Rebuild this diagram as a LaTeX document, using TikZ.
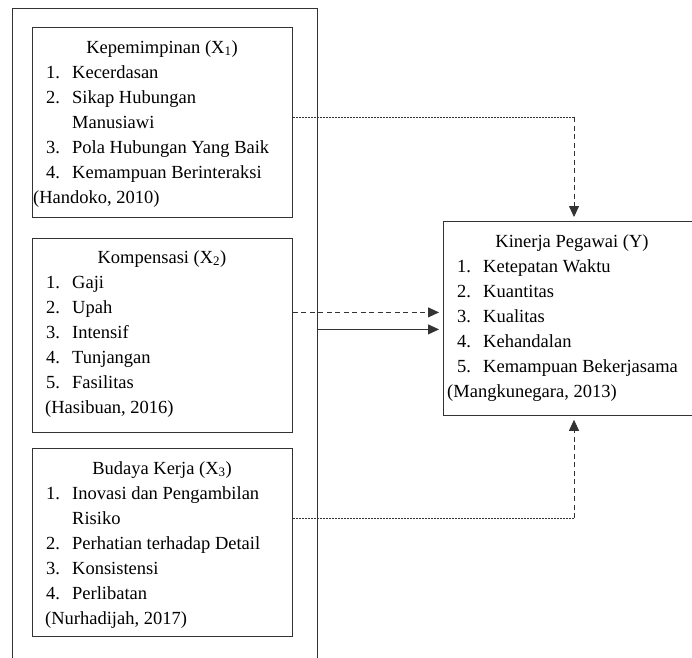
\documentclass[tikz,border=0pt]{standalone}
\usepackage{fontspec}
\setmainfont{Liberation Serif}
\usepackage{tikz}
\usetikzlibrary{arrows.meta,positioning,calc}

\newcommand{\daftar}[1]{\begin{tabular}[t]{@{}p{26pt}@{}l@{}}#1\end{tabular}}

\begin{document}
\begin{tikzpicture}[x=1pt, y=-1pt,
    kotak/.style={draw=black!80, line width=0.8pt, anchor=north west, inner sep=0pt},
    teks/.style={font=\fontsize{18.5}{25}\selectfont, inner sep=0pt},
    judul/.style={teks, anchor=base},
    isi/.style={teks, anchor=base west},
    garis/.style={line width=0.8pt, black!80},
    panah/.style={garis, -{Triangle[length=11pt, width=10pt]}, shorten >=4pt},
    putus/.style={dash pattern=on 5pt off 3.5pt},
    halus/.style={garis, dash pattern=on 2pt off 1pt}
]
    \useasboundingbox (0,0) rectangle (692,657);

    % kotak
    \node[kotak, line width=1pt, minimum width=305pt, minimum height=670pt] (grup) at (12,8) {};
    \node[kotak, minimum width=260pt, minimum height=190pt] (kep)  at (32,27)  {};
    \node[kotak, minimum width=260pt, minimum height=194pt] (komp) at (32,238) {};
    \node[kotak, minimum width=260pt, minimum height=188pt] (bud)  at (32,448) {};
    % kotak Y terpotong di tepi kanan
    \node[kotak, draw=none, minimum width=249pt, minimum height=194pt] (kin) at (443,221) {};
    \draw[garis] (kin.north east) -- (kin.north west) -- (kin.south west) -- (kin.south east);

    % Kepemimpinan
    \node[judul] (kepJudul) at (162,53) {Kepemimpinan (X\textsubscript{1})};
    \node[isi] (kepIsi) at (46,78) {\daftar{1. & Kecerdasan\\ 2. & Sikap Hubungan\\ & Manusiawi\\
        3. & Pola Hubungan Yang Baik\\ 4. & Kemampuan Berinteraksi}};
    \node[isi] (kepSumber) at (33,203) {(Handoko, 2010)};

    % Kompensasi
    \node[judul] (kompJudul) at (162,263) {Kompensasi (X\textsubscript{2})};
    \node[isi] (kompIsi) at (46,288) {\daftar{1. & Gaji\\ 2. & Upah\\ 3. & Intensif\\
        4. & Tunjangan\\ 5. & Fasilitas}};
    \node[isi] (kompSumber) at (45,413) {(Hasibuan, 2016)};

    % Budaya Kerja
    \node[judul] (budJudul) at (162,474) {Budaya Kerja (X\textsubscript{3})};
    \node[isi] (budIsi) at (46,499) {\daftar{1. & Inovasi dan Pengambilan\\ & Risiko\\
        2. & Perhatian terhadap Detail\\ 3. & Konsistensi\\ 4. & Perlibatan}};
    \node[isi] (budSumber) at (45,624) {(Nurhadijah, 2017)};

    % Kinerja Pegawai
    \node[judul] (kinJudul) at (572,247) {Kinerja Pegawai (Y)};
    \node[isi] (kinIsi) at (457,272) {\daftar{1. & Ketepatan Waktu\\ 2. & Kuantitas\\ 3. & Kualitas\\
        4. & Kehandalan\\ 5. & Kemampuan Bekerjasama}};
    \node[isi] (kinSumber) at (447,397) {(Mangkunegara, 2013)};

    % panah
    \coordinate (belok1) at (574,117);
    \coordinate (belok3) at (574,518);
    \coordinate (masuk2) at ([yshift=6pt]kin.west);
    \coordinate (masukAll) at ([yshift=-11pt]kin.west);

    \draw[halus] (kep.east |- belok1) -- (belok1);
    \draw[panah, putus] (belok1) -- (belok1 |- kin.north);
    \draw[panah, putus] (komp.east |- masuk2) -- (masuk2);
    \draw[panah] (grup.east |- masukAll) -- (masukAll);
    \draw[halus] (bud.east |- belok3) -- (belok3);
    \draw[panah, putus] (belok3) -- (belok3 |- kin.south);
\end{tikzpicture}
\end{document}
